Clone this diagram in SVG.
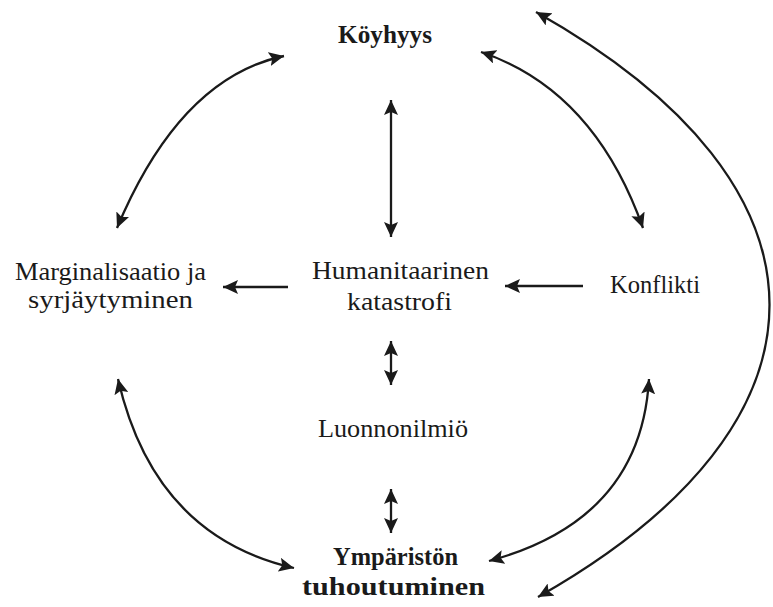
<svg xmlns="http://www.w3.org/2000/svg" width="773" height="607" viewBox="0 0 773 607">
<style>
text{font-family:"Liberation Serif","DejaVu Serif",serif;font-size:26px;fill:#1a1a1a;text-anchor:middle}
.b{font-weight:bold}
.c{fill:none;stroke:#1a1a1a;stroke-width:2.3}
</style>
<defs>
<marker id="ah" markerUnits="userSpaceOnUse" markerWidth="16" markerHeight="14" refX="15" refY="7" orient="auto-start-reverse" viewBox="0 0 16 14">
<path d="M0,0 L15,7 L0,14 L3,7 Z" fill="#1a1a1a"/>
</marker>
</defs>
<rect width="773" height="607" fill="#fff"/>
<g id="connectors">
<path class="c" d="M391,100 L391,237" marker-start="url(#ah)" marker-end="url(#ah)"/>
<path class="c" d="M391,341 L391,385" marker-start="url(#ah)" marker-end="url(#ah)"/>
<path class="c" d="M391,489 L391,533" marker-start="url(#ah)" marker-end="url(#ah)"/>
<path class="c" d="M288,287 L223,287" marker-end="url(#ah)"/>
<path class="c" d="M583,286 L505,286" marker-end="url(#ah)"/>
<path class="c" d="M284,56 Q180,78 117,228" marker-start="url(#ah)" marker-end="url(#ah)"/>
<path class="c" d="M481,52 Q594,90 643,228" marker-start="url(#ah)" marker-end="url(#ah)"/>
<path class="c" d="M536,12 C847,187 847,422 538,597" marker-start="url(#ah)" marker-end="url(#ah)"/>
<path class="c" d="M118,379 Q154,536 294,568" marker-start="url(#ah)" marker-end="url(#ah)"/>
<path class="c" d="M649,379 Q641,520 489,561" marker-start="url(#ah)" marker-end="url(#ah)"/>
</g>
<g id="koyhyys"><text class="b" x="385" y="43" textLength="94" lengthAdjust="spacingAndGlyphs">Köyhyys</text></g>
<g id="marginalisaatio">
<text x="110.5" y="280" textLength="191" lengthAdjust="spacingAndGlyphs">Marginalisaatio ja</text>
<text x="110.5" y="308" textLength="165" lengthAdjust="spacingAndGlyphs">syrjäytyminen</text>
</g>
<g id="humanitaarinen">
<text x="400.5" y="279" textLength="177" lengthAdjust="spacingAndGlyphs">Humanitaarinen</text>
<text x="399.5" y="310" textLength="105" lengthAdjust="spacingAndGlyphs">katastrofi</text>
</g>
<g id="konflikti"><text x="655" y="293" textLength="90" lengthAdjust="spacingAndGlyphs">Konflikti</text></g>
<g id="luonnonilmio"><text x="393" y="437" textLength="150" lengthAdjust="spacingAndGlyphs">Luonnonilmiö</text></g>
<g id="ymparisto">
<text class="b" x="395.5" y="565" textLength="125" lengthAdjust="spacingAndGlyphs">Ympäristön</text>
<text class="b" x="393.5" y="595" textLength="183" lengthAdjust="spacingAndGlyphs">tuhoutuminen</text>
</g>
</svg>
